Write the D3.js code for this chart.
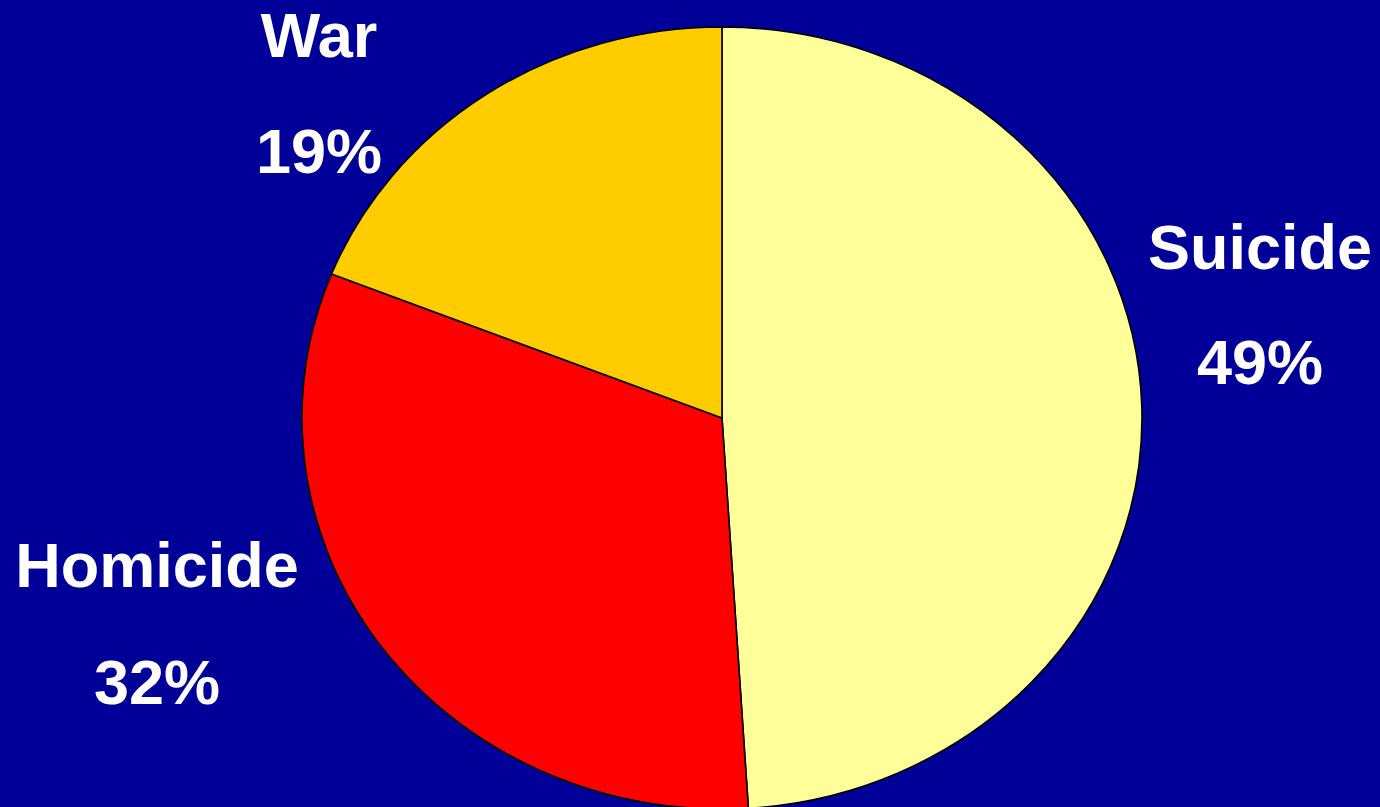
<!DOCTYPE html>
<html>
<head>
<meta charset="utf-8">
<script src="https://cdn.jsdelivr.net/npm/d3@7"></script>
<style>
  html, body { margin: 0; padding: 0; background: #000099; }
  svg { display: block; }
</style>
</head>
<body>
<svg id="chart" width="1380" height="807"></svg>
<script>
// Share of violent deaths by cause
const categories = ["Suicide", "Homicide", "War"];
const values = [49, 32, 19];
const colors = ["#FFFF99", "#FF0000", "#FFCC00"];
const valueLabels = ["49%", "32%", "19%"];

const W = 1380, H = 807;
const cx = 722, cy = 418;
const rx = 420, ry = 391;

const svg = d3.select("#chart");
svg.append("rect").attr("width", W).attr("height", H).attr("fill", "#000099");

const pie = d3.pie().sort(null).value(d => d)(values);
const arc = d3.arc().innerRadius(0).outerRadius(rx);

// Pie drawn as a circle and squashed vertically into an ellipse
const g = svg.append("g")
  .attr("transform", `translate(${cx},${cy}) scale(1,${ry / rx})`);

g.selectAll("path")
  .data(pie)
  .join("path")
  .attr("d", arc)
  .attr("fill", (d, i) => colors[i])
  .attr("stroke", "#000")
  .attr("stroke-width", 1.6)
  .attr("vector-effect", "non-scaling-stroke")
  .attr("stroke-linejoin", "round");

// Label anchors (category name baseline and percent baseline)
const labelPos = {
  "Suicide":  { x: 1260, y1: 269, y2: 384 },
  "Homicide": { x: 157,  y1: 587, y2: 704 },
  "War":      { x: 319,  y1: 57,  y2: 173 }
};

const labels = svg.append("g")
  .attr("font-family", "'Liberation Sans', Arial, sans-serif")
  .attr("font-weight", "bold")
  .attr("font-size", 63)
  .attr("fill", "#fff")
  .attr("text-anchor", "middle");

categories.forEach((c, i) => {
  const p = labelPos[c];
  labels.append("text").attr("x", p.x).attr("y", p.y1).text(c);
  labels.append("text").attr("x", p.x).attr("y", p.y2).text(valueLabels[i]);
});
</script>
</body>
</html>
